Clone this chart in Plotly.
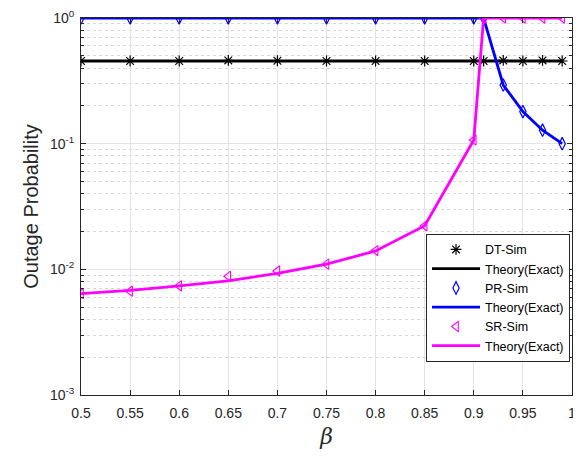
import plotly.graph_objects as go

beta = [0.5, 0.55, 0.6, 0.65, 0.7, 0.75, 0.8, 0.85, 0.9, 0.91, 0.93, 0.95, 0.97, 0.99]

dt_sim = [0.455, 0.455, 0.455, 0.46, 0.457, 0.455, 0.455, 0.455, 0.455, 0.455, 0.46, 0.455, 0.46, 0.455]
dt_theory = [0.455] * 14

pr_sim = [1, 1, 1, 1, 1, 1, 1, 1, 1, 1, 0.293, 0.18, 0.128, 0.1]
pr_theory = [1, 1, 1, 1, 1, 1, 1, 1, 1, 1, 0.293, 0.18, 0.128, 0.1]

sr_sim = [0.0064, 0.0067, 0.0074, 0.0088, 0.0097, 0.011, 0.0141, 0.0222, 0.107, 1, 1, 1, 1, 1]
sr_theory = [0.0064, 0.0068, 0.0074, 0.0081, 0.0093, 0.011, 0.014, 0.0222, 0.107, 1, 1, 1, 1, 1]

y_ticks = [1e-3, 1e-2, 1e-1, 1]
y_ticktext = ["10<sup>-3</sup>", "10<sup>-2</sup>", "10<sup>-1</sup>", "10<sup>0</sup>"]
x_ticks = [0.5, 0.55, 0.6, 0.65, 0.7, 0.75, 0.8, 0.85, 0.9, 0.95, 1]
x_ticktext = ["0.5", "0.55", "0.6", "0.65", "0.7", "0.75", "0.8", "0.85", "0.9", "0.95", "1"]

minor_vals = [m * 10 ** e for e in (-3, -2, -1) for m in range(2, 10)]

fig = go.Figure()
fig.add_trace(go.Scatter(x=beta, y=dt_sim, mode="markers", name="DT-Sim",
                         marker=dict(symbol="asterisk-open", size=9, color="black",
                                     line=dict(color="black", width=1.2))))
fig.add_trace(go.Scatter(x=beta, y=dt_theory, mode="lines", name="Theory(Exact)",
                         line=dict(color="black", width=2.8)))
fig.add_trace(go.Scatter(x=beta, y=pr_sim, mode="markers", name="PR-Sim",
                         marker=dict(symbol="diamond-tall-open", size=9, color="blue",
                                     line=dict(color="blue", width=1.2))))
fig.add_trace(go.Scatter(x=beta, y=pr_theory, mode="lines", name="Theory(Exact)",
                         line=dict(color="blue", width=2.8)))
fig.add_trace(go.Scatter(x=beta, y=sr_sim, mode="markers", name="SR-Sim",
                         marker=dict(symbol="triangle-left-open", size=9, color="magenta",
                                     line=dict(color="magenta", width=1.1))))
fig.add_trace(go.Scatter(x=beta, y=sr_theory, mode="lines", name="Theory(Exact)",
                         line=dict(color="magenta", width=2.8)))

# page body has an 8px default margin, so the figure is sized to fit inside it
fig.update_layout(
    width=573, height=450,
    margin=dict(l=73, r=9, t=10, b=63),
    plot_bgcolor="white", paper_bgcolor="white",
    font=dict(family="Arial, Liberation Sans, sans-serif", color="#262626", size=14),
    showlegend=True,
    legend=dict(x=0.996, y=0.088, xanchor="right", yanchor="bottom",
                bgcolor="white", bordercolor="#262626", borderwidth=1,
                font=dict(size=12.5, color="black"), tracegroupgap=0,
                itemwidth=48),
    xaxis=dict(range=[0.5, 1.00001], tickvals=x_ticks, ticktext=x_ticktext,
               showgrid=True, gridcolor="#e3e3e3", gridwidth=1,
               ticks="inside", ticklen=5, tickcolor="#262626",
               showline=True, linecolor="#262626", linewidth=1, mirror="ticks",
               zeroline=False, automargin=False, ticklabelstandoff=5,
               title=dict(text="<i>β</i>", font=dict(size=22, family="DejaVu Serif, serif"), standoff=8)),
    yaxis=dict(type="log", range=[-3, 0], tickvals=y_ticks, ticktext=y_ticktext,
               showgrid=True, gridcolor="#e3e3e3", gridwidth=1,
               ticks="inside", ticklen=5, tickcolor="#262626",
               showline=True, linecolor="#262626", linewidth=1, mirror="ticks",
               zeroline=False, automargin=False, ticklabelstandoff=3,
               minor=dict(tickvals=minor_vals, showgrid=True, gridcolor="#d8d8d8",
                          griddash="dot", ticks="inside", ticklen=3, tickcolor="#262626"),
               title=dict(text="Outage Probability", font=dict(size=20), standoff=5)),
)

fig.write_html("out.html")
